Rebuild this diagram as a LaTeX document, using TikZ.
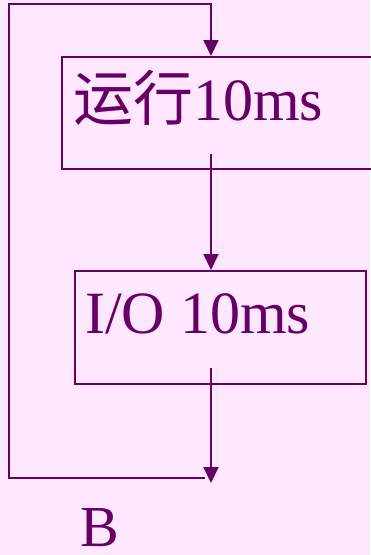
\documentclass[tikz,border=0pt]{standalone}
\usepackage{fontspec}
\setmainfont{Liberation Serif}
\newfontfamily\cjk{Noto Sans CJK SC}
\usetikzlibrary{arrows.meta}
\definecolor{bg}{HTML}{FFE8FF}
\definecolor{ink}{HTML}{660066}
\begin{document}
\begin{tikzpicture}[x=1pt,y=-1pt,
  line/.style={draw=ink,line width=2pt},
  arr/.style={line,-{Triangle[length=16pt,width=15pt]}},
  boxstyle/.style={draw=ink,line width=2pt,inner sep=0pt,anchor=north west},
  lbl/.style={text=ink,inner sep=0pt,anchor=base west,font=\fontsize{60}{72}\selectfont}]
\fill[bg] (0,0) rectangle (370,555);
\useasboundingbox (0,0) rectangle (370,555);
% boxes
\node[boxstyle,minimum width=315pt,minimum height=112pt] (run) at (61,56) {};
\node[boxstyle,minimum width=291pt,minimum height=113pt] (io) at (74,270) {};
% labels
\node[lbl] (runtxt) at (73,120) {{\cjk 运行}10ms};
\node[lbl] (iotxt) at (85,333) {I/O 10ms};
\node[lbl,font=\fontsize{58}{70}\selectfont] (btxt) at (80,546) {B};
% coordinates
\coordinate (runOut) at (211,154);
\coordinate (ioIn) at (211,270);
\coordinate (runIn) at (211,56);
\coordinate (ioOut) at (211,368);
\coordinate (bEnd) at (211,483);
\coordinate (joinB) at (205,478);
\coordinate (loopBL) at (9,478);
\coordinate (loopTL) at (9,4);
\coordinate (loopTR) at (211,4);
% connectors
\draw[arr] (runOut) -- (ioIn);
\draw[arr] (ioOut) -- (bEnd);
\draw[arr] (joinB) -- (loopBL) -- (loopTL) -- (loopTR) -- (runIn);
\end{tikzpicture}
\end{document}
